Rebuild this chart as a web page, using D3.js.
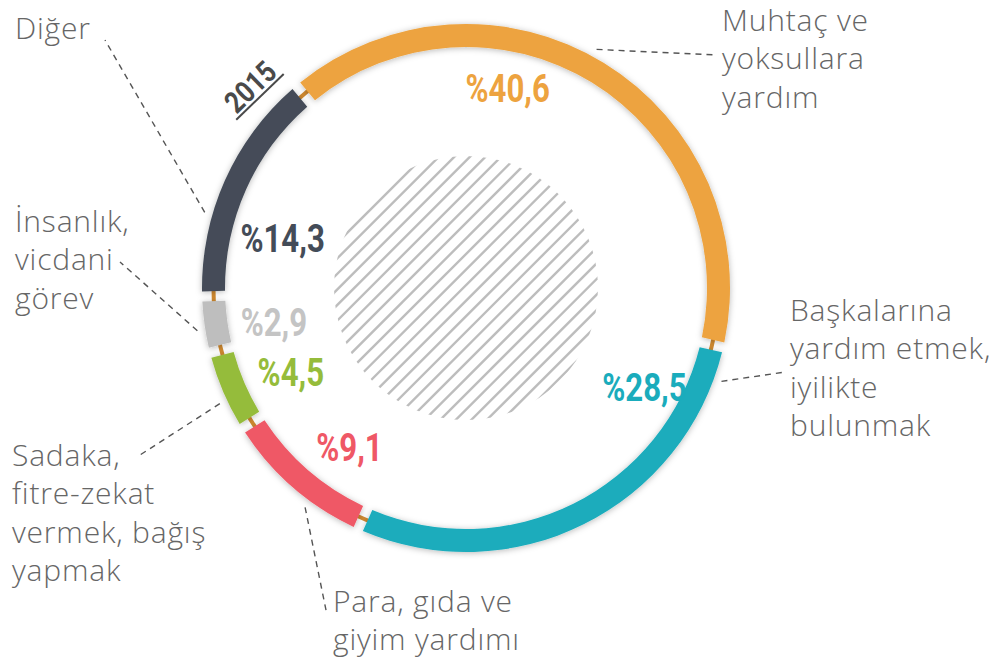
<!DOCTYPE html>
<html>
  <head>
    <meta charset="utf-8">
    <title>2015</title>
    <style>
      body {
        margin: 0;
        background-color: white;
      }
      .pct {
        font-family: Roboto, sans-serif;
        font-weight: bold;
        font-size: 39px;
      }
      .lbl {
        font-family: "Open Sans", sans-serif;
        font-weight: 300;
        font-size: 30px;
        letter-spacing: 0.8px;
        fill: #666;
      }
    </style>
  </head>
  <body>
    <div id="chart"></div>

    <script src="https://d3js.org/d3.v7.min.js"></script>
    <script>
      // data, clockwise from the top
      var categories = ["Muhtaç ve yoksullara yardım", "Başkalarına yardım etmek, iyilikte bulunmak",
        "Para, gıda ve giyim yardımı", "Sadaka, fitre-zekat vermek, bağış yapmak",
        "İnsanlık, vicdani görev", "Diğer"];
      var values = [40.6, 28.5, 9.1, 4.5, 2.9, 14.3];
      var valueLabels = ["%40,6", "%28,5", "%9,1", "%4,5", "%2,9", "%14,3"];
      var labelLines = [
        ["Muhtaç ve", "yoksullara", "yardım"],
        ["Başkalarına", "yardım etmek,", "iyilikte", "bulunmak"],
        ["Para, gıda ve", "giyim yardımı"],
        ["Sadaka,", "fitre-zekat", "vermek, bağış", "yapmak"],
        ["İnsanlık,", "vicdani", "görev"],
        ["Diğer"]
      ];
      var year = "2015";

      var colors = ["#eda33f", "#1aacbc", "#ef5866", "#95bc3b", "#bebebe", "#444c58"];
      var pctColors = ["#eda33f", "#1aacbc", "#ef5866", "#95bc3b", "#c4c4c4", "#444c58"];

      // layout
      var width = 995, height = 661;
      var cx = 466, cy = 288;
      var ri = 241, ro = 264;
      var labelFrac = [0.36, 0.15, 0.35, 0.35, 0.31, 0.32];
      var labelR = [204, 204, 197, 194, 195, 190];
      var leaderFrac = [0.48, 0.06, 0.35, 0.37, 0.4, 0.34];
      var textPos = [[722, 20], [790, 310], [333, 601], [12, 455], [15, 221], [15, 28]];
      var leaderEnd = [[717, 55], [785, 372], [327, 615], [140, 455], [120, 262], [105, 40]];

      var rad = Math.PI / 180;
      var start = -40 * rad;

      var svg = d3.select("#chart").append("svg")
        .attr("width", width)
        .attr("height", height);

      var defs = svg.append("defs");
      var f = defs.append("filter").attr("id", "shadow")
        .attr("x", "-20%").attr("y", "-20%").attr("width", "140%").attr("height", "140%");
      f.append("feDropShadow")
        .attr("dx", 0).attr("dy", 1)
        .attr("stdDeviation", 3)
        .attr("flood-color", "#000")
        .attr("flood-opacity", 0.28);

      defs.append("clipPath").attr("id", "hatchClip")
        .append("circle").attr("cx", cx).attr("cy", cy).attr("r", 132);

      var g = svg.append("g").attr("transform", "translate(" + cx + "," + cy + ")");

      // hatched disc in the middle
      var hatch = svg.append("g").attr("clip-path", "url(#hatchClip)");
      var step = 11;
      var offs = d3.range(-200, 200, step);
      hatch.selectAll("line")
        .data(offs)
        .enter()
        .append("line")
        .attr("x1", function(d) { return cx + d / Math.SQRT2 - 200 / Math.SQRT2; })
        .attr("y1", function(d) { return cy + d / Math.SQRT2 + 200 / Math.SQRT2; })
        .attr("x2", function(d) { return cx + d / Math.SQRT2 + 200 / Math.SQRT2; })
        .attr("y2", function(d) { return cy + d / Math.SQRT2 - 200 / Math.SQRT2; })
        .attr("stroke", "#bdbdbd")
        .attr("stroke-width", 2.4);

      // thin connecting ring
      g.append("circle")
        .attr("r", (ri + ro) / 2)
        .attr("fill", "none")
        .attr("stroke", "#d08a30")
        .attr("stroke-width", 4);

      var pie = d3.pie()
        .sort(null)
        .value(function(d) { return d; })
        .startAngle(start)
        .endAngle(start + 2 * Math.PI)
        .padAngle(0.04);

      var arcs = pie(values);

      var arc = d3.arc()
        .innerRadius(ri)
        .outerRadius(ro)
        .padRadius((ri + ro) / 2);

      g.selectAll("path.seg")
        .data(arcs)
        .enter()
        .append("path")
        .attr("class", "seg")
        .attr("d", arc)
        .attr("fill", function(d, i) { return colors[i]; })
        .attr("filter", "url(#shadow)");

      function at(d, frac) {
        return d.startAngle + d.padAngle / 2 + frac * (d.endAngle - d.startAngle - d.padAngle);
      }

      // percent labels (condensed by squeezing horizontally)
      var sx = 0.8;
      var pg = g.selectAll("g.pct")
        .data(arcs)
        .enter()
        .append("g")
        .attr("transform", function(d, i) {
          var a = at(d, labelFrac[i]);
          return "translate(" + (labelR[i] * Math.sin(a)) + "," + (-labelR[i] * Math.cos(a)) + ") scale(" + sx + ",1)";
        });
      pg.append("text")
        .attr("class", "pct")
        .attr("text-anchor", "middle")
        .attr("dy", "0.36em")
        .attr("fill", function(d, i) { return pctColors[i]; })
        .text(function(d, i) { return valueLabels[i]; });

      // leader lines
      g.selectAll("line.lead")
        .data(arcs)
        .enter()
        .append("line")
        .attr("class", "lead")
        .attr("x1", function(d, i) { return 272 * Math.sin(at(d, leaderFrac[i])); })
        .attr("y1", function(d, i) { return -272 * Math.cos(at(d, leaderFrac[i])); })
        .attr("x2", function(d, i) { return leaderEnd[i][0] - cx; })
        .attr("y2", function(d, i) { return leaderEnd[i][1] - cy; })
        .attr("stroke", "#555")
        .attr("stroke-width", 1.4)
        .attr("stroke-dasharray", "6,5");

      // category labels
      var lbl = svg.selectAll("text.lbl")
        .data(labelLines)
        .enter()
        .append("text")
        .attr("class", "lbl")
        .attr("x", function(d, i) { return textPos[i][0]; })
        .attr("y", function(d, i) { return textPos[i][1]; });
      lbl.selectAll("tspan")
        .data(function(d, i) { return d.map(function(t) { return { t: t, x: textPos[i][0] }; }); })
        .enter()
        .append("tspan")
        .attr("x", function(d) { return d.x; })
        .attr("dy", function(d, j) { return j === 0 ? "0.35em" : "38.5"; })
        .text(function(d) { return d.t; });

      // year label just outside the start of the first segment
      var ya = arcs[0].startAngle - 7 * rad;
      var yr = 295;
      var yg = g.append("g")
        .attr("transform", "translate(" + (yr * Math.sin(ya)) + "," + (-yr * Math.cos(ya)) + ") rotate(" + (ya / rad + 3) + ")");
      yg.append("text")
        .attr("text-anchor", "middle")
        .attr("dy", "0.35em")
        .attr("transform", "scale(0.85,1)")
        .attr("font-family", "Roboto, sans-serif")
        .attr("font-weight", "bold")
        .attr("font-size", 30)
        .attr("fill", "#4a4a4a")
        .text(year);
      yg.append("line")
        .attr("x1", -33).attr("x2", 33)
        .attr("y1", 14).attr("y2", 14)
        .attr("stroke", "#4a4a4a")
        .attr("stroke-width", 2);
    </script>
  </body>
</html>
